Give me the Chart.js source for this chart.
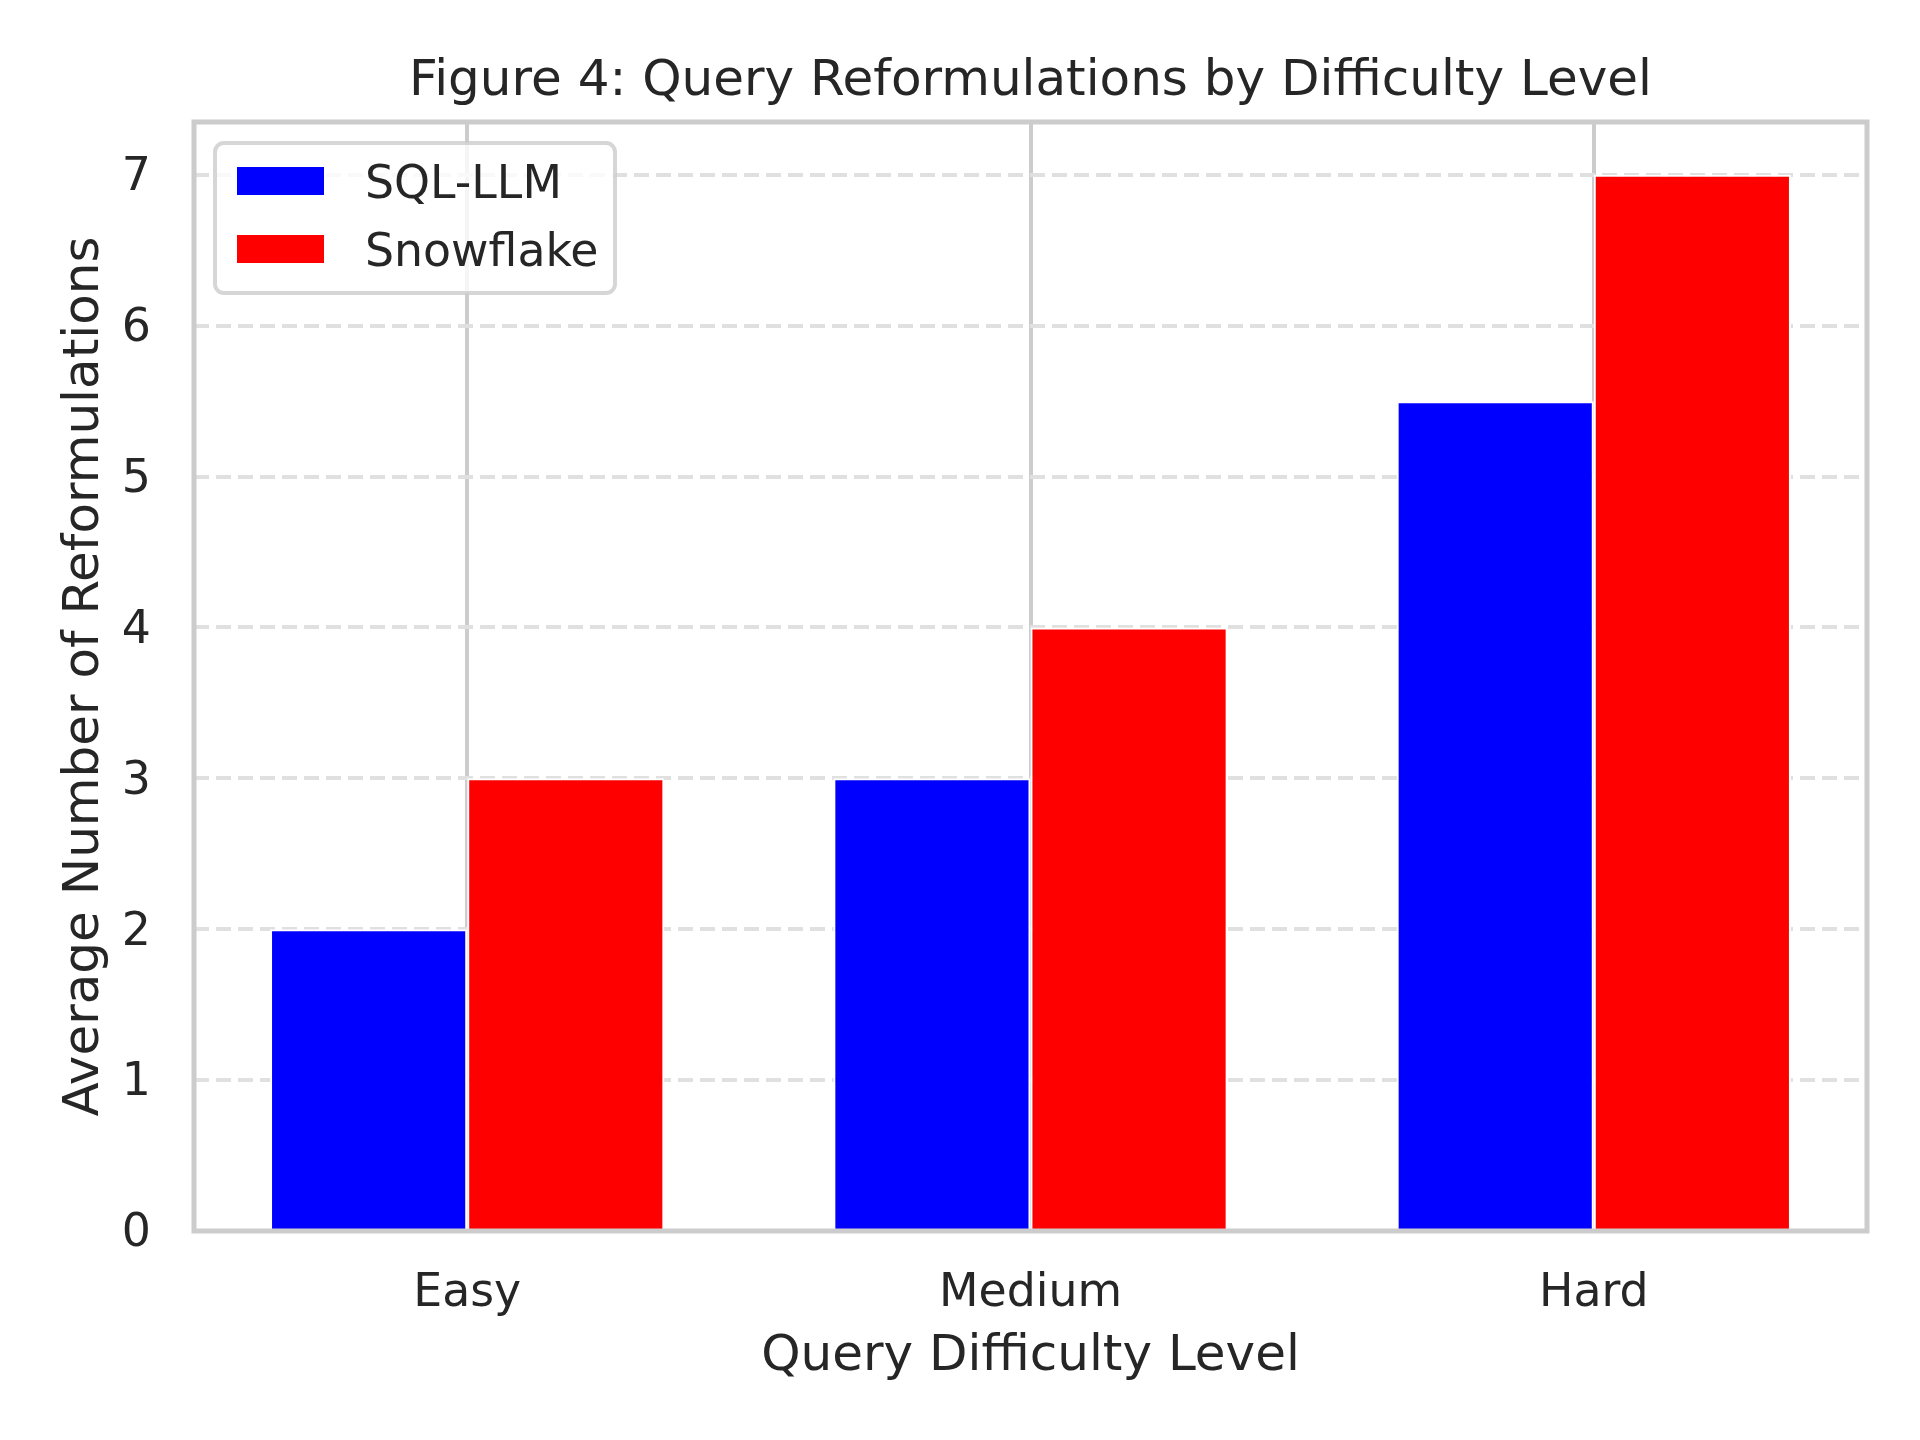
<!DOCTYPE html>
<html>
<head>
<meta charset="utf-8">
<script src="https://cdn.jsdelivr.net/npm/chart.js@4.4.1/dist/chart.umd.min.js"></script>
<style>
  html, body { margin: 0; padding: 0; background: #ffffff; }
  #wrap { width: 1920px; height: 1440px; }
</style>
</head>
<body>
<div id="wrap"><canvas id="myChart" width="1920" height="1440"></canvas></div>
<script>
'use strict';

// data
var categories = ['Easy', 'Medium', 'Hard'];
var seriesNames = ['SQL-LLM', 'Snowflake'];
var sqlLlm = [2, 3, 5.5];
var snowflake = [3, 4, 7];
var yTicks = [0, 1, 2, 3, 4, 5, 6, 7];

var textColor = '#262626';
var fontFamily = '"DejaVu Sans", sans-serif';

function toPoints(values) {
   return values.map(function (v, i) { return { x: i, y: v }; });
}

// axes frame (all four spines), drawn over the bars like matplotlib does
var framePlugin = {
   id: 'frame',
   afterDatasetsDraw: function (chart) {
      var a = chart.chartArea, ctx = chart.ctx;
      ctx.save();
      ctx.strokeStyle = '#cccccc';
      ctx.lineWidth = 5;
      ctx.strokeRect(a.left, a.top, a.right - a.left, a.bottom - a.top);
      ctx.restore();
   }
};

// nudge y tick labels down a little so digits sit centred on the grid lines
var yLabelShift = {
   id: 'yLabelShift',
   beforeDraw: function (chart) {
      var s = chart.scales.y;
      if (s._shifted) return;
      var orig = s.drawLabels;
      s.drawLabels = function (area) {
         chart.ctx.save();
         chart.ctx.translate(0, 3.4);
         orig.call(this, area);
         chart.ctx.restore();
      };
      s._shifted = true;
   }
};

// legend box in the upper left corner of the axes
var legendBox = {
   id: 'legendBox',
   afterDraw: function (chart) {
      var a = chart.chartArea, ctx = chart.ctx;
      var x = a.left + 21, y = a.top + 21, w = 400, h = 150, r = 9;
      ctx.save();
      ctx.beginPath();
      ctx.moveTo(x + r, y);
      ctx.arcTo(x + w, y, x + w, y + h, r);
      ctx.arcTo(x + w, y + h, x, y + h, r);
      ctx.arcTo(x, y + h, x, y, r);
      ctx.arcTo(x, y, x + w, y, r);
      ctx.closePath();
      ctx.fillStyle = 'rgba(255,255,255,0.8)';
      ctx.fill();
      ctx.strokeStyle = 'rgba(204,204,204,0.8)';
      ctx.lineWidth = 4;
      ctx.stroke();

      ctx.font = '45.8px ' + fontFamily;
      ctx.textAlign = 'left';
      ctx.textBaseline = 'alphabetic';
      chart.data.datasets.forEach(function (ds, i) {
         var cy = y + 38 + i * 68;
         ctx.fillStyle = ds.backgroundColor;
         ctx.fillRect(x + 22, cy - 14, 87, 28);
         ctx.fillStyle = textColor;
         ctx.fillText(ds.label, x + 150, cy + 16.7);
      });
      ctx.restore();
   }
};

var ctx = document.getElementById('myChart').getContext('2d');
var myChart = new Chart(ctx, {
   type: 'bar',
   data: {
      datasets: [{
         label: seriesNames[0],
         data: toPoints(sqlLlm),
         backgroundColor: '#0000ff',
         borderColor: '#ffffff',
         borderWidth: 2,
         categoryPercentage: 0.7,
         barPercentage: 1.0
      }, {
         label: seriesNames[1],
         data: toPoints(snowflake),
         backgroundColor: '#ff0000',
         borderColor: '#ffffff',
         borderWidth: 2,
         categoryPercentage: 0.7,
         barPercentage: 1.0
      }]
   },
   options: {
      responsive: false,
      animation: false,
      devicePixelRatio: 1,
      layout: { padding: { left: 0, right: 53, top: 0, bottom: 0 } },
      plugins: {
         legend: { display: false },
         tooltip: { enabled: false },
         title: {
            display: true,
            text: 'Figure 4: Query Reformulations by Difficulty Level',
            color: textColor,
            font: { family: fontFamily, size: 50, weight: 'normal' },
            padding: { top: 52, bottom: 10 },
            fullSize: false
         }
      },
      scales: {
         x: {
            type: 'linear',
            min: -0.485,
            max: 2.485,
            offset: false,
            afterBuildTicks: function (scale) {
               scale.ticks = categories.map(function (c, i) { return { value: i }; });
            },
            afterFit: function (scale) { scale.height = 209; },
            ticks: {
               color: textColor,
               font: { family: fontFamily, size: 45.8 },
               padding: 35.5,
               maxRotation: 0,
               callback: function (value) { return categories[value]; }
            },
            grid: {
               offset: false,
               color: '#cccccc',
               lineWidth: 4,
               drawTicks: false
            },
            border: { display: false },
            title: {
               display: true,
               text: 'Query Difficulty Level',
               color: textColor,
               font: { family: fontFamily, size: 50 },
               padding: { top: 0, bottom: 53.3 }
            }
         },
         y: {
            min: 0,
            max: 7.35,
            afterBuildTicks: function (scale) {
               scale.ticks = yTicks.map(function (v) { return { value: v }; });
            },
            afterFit: function (scale) { scale.width = 194; },
            ticks: {
               color: textColor,
               font: { family: fontFamily, size: 45.8 },
               padding: 43
            },
            grid: {
               color: '#e0e0e0',
               lineWidth: 4,
               drawTicks: false
            },
            // in v4 the grid line dash is read from border.dash
            border: { display: false, dash: [15, 7] },
            title: {
               display: true,
               text: 'Average Number of Reformulations',
               color: textColor,
               font: { family: fontFamily, size: 50 },
               padding: { top: 54.7, bottom: 0 }
            }
         }
      }
   },
   plugins: [yLabelShift, framePlugin, legendBox]
});
</script>
</body>
</html>
